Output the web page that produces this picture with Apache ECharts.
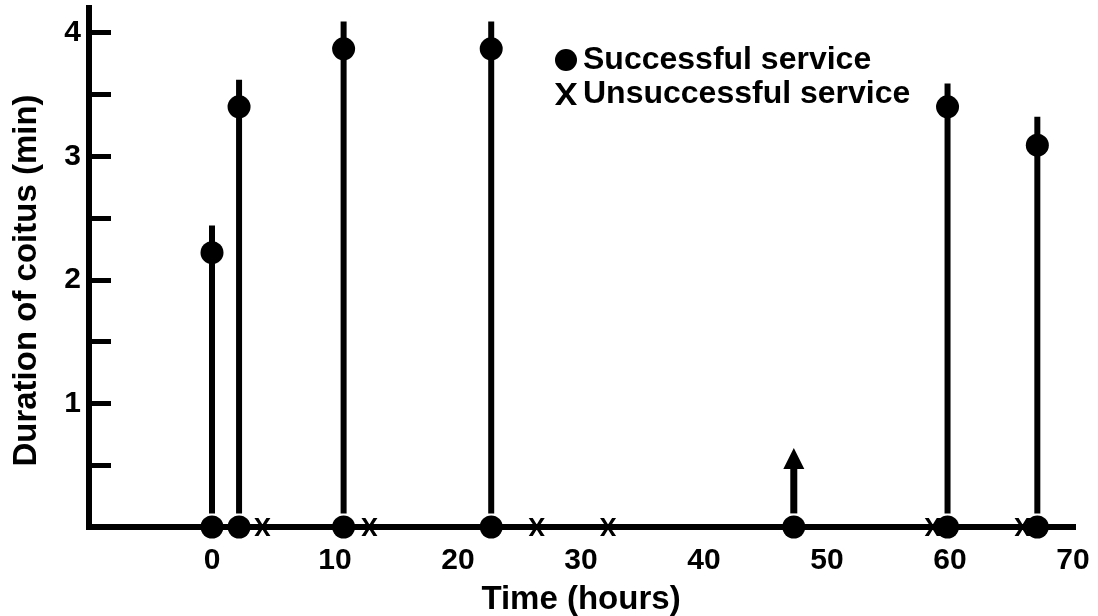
<!DOCTYPE html>
<html>
<head>
<meta charset="utf-8">
<script src="https://cdn.jsdelivr.net/npm/echarts@6/dist/echarts.min.js"></script>
<style>
  html, body { margin: 0; padding: 0; background: #ffffff; }
  #chart { width: 1098px; height: 616px; }
</style>
</head>
<body>
<div id="chart"></div>
<script>
// ---- Data ----
// Times (hours) of successful services that have a measured duration
const successTimes = [0.0, 2.2, 10.7, 22.7, 59.8, 67.1];
// Mean duration of coitus (min) at each successful service
const durations = [2.22, 3.40, 3.87, 3.87, 3.40, 3.09];
// Upper end of the bar above each mean (min)
const upperValues = [2.44, 3.62, 4.09, 4.09, 3.59, 3.32];
// Successful service marked with an arrow (no duration plotted)
const arrowTimes = [47.3];
const arrowTops = [0.64];
// Times (hours) of unsuccessful services
const unsuccessTimes = [4.1, 12.8, 26.4, 32.2, 58.6, 65.9];
// Tick labels
const xTickLabels = [0, 10, 20, 30, 40, 50, 60, 70];
const yTickLabels = [1, 2, 3, 4];
const yMinorTicks = [0.5, 1, 1.5, 2, 2.5, 3, 3.5, 4];
const STEM_BASE = 0.11;

// ---- Derived series data ----
const axisDotTimes = successTimes.slice(0, 4).concat(arrowTimes, successTimes.slice(4));
const axisDots = axisDotTimes.map(t => [t, 0]);
const topDots = successTimes.map((t, i) => [t, durations[i]]);
const stems = successTimes.map((t, i) => [t, upperValues[i]]);
const arrows = arrowTimes.map((t, i) => [t, arrowTops[i]]);
const xMarks = unsuccessTimes.map(t => [t, 0]);

const FONT = '"Liberation Sans", Arial, Helvetica, sans-serif';
const X_PATH = 'path://M0,0H4.5L9,6.5L13.5,0H18L11.3,9L18,18H13.5L9,11.5L4.5,18H0L6.7,9Z';

const chart = echarts.init(document.getElementById('chart'), null, { renderer: 'canvas' });

chart.setOption({
  backgroundColor: '#ffffff',
  animation: false,
  textStyle: { fontFamily: FONT, color: '#000' },
  grid: { left: 89, right: 25, top: 8, bottom: 89, containLabel: false, outerBoundsMode: 'none' },
  legend: {
    orient: 'vertical',
    left: 550,
    top: 39,
    itemWidth: 22,
    itemHeight: 22,
    itemGap: 2,
    data: ['Successful service', 'Unsuccessful service'],
    textStyle: { fontFamily: FONT, fontSize: 32, fontWeight: 'bold', color: '#000', padding: [0, 0, 0, 1], lineHeight: 32 },
    inactiveColor: '#000'
  },
  xAxis: {
    type: 'value',
    min: -10,
    max: 70,
    interval: 10,
    name: 'Time (hours)',
    nameLocation: 'middle',
    nameGap: 56,
    nameTextStyle: { fontFamily: FONT, fontSize: 33, fontWeight: 'bold', color: '#000' },
    splitLine: { show: false },
    axisLine: { show: true, onZero: false, lineStyle: { color: '#000', width: 6, cap: 'square' } },
    axisTick: { show: false },
    axisLabel: {
      customValues: xTickLabels,
      margin: 19,
      fontFamily: FONT, fontSize: 30, fontWeight: 'bold', color: '#000'
    }
  },
  yAxis: {
    type: 'value',
    min: 0,
    max: 4.2,
    interval: 0.5,
    name: 'Duration of coitus (min)',
    nameLocation: 'middle',
    nameGap: 46,
    nameTextStyle: { fontFamily: FONT, fontSize: 33, fontWeight: 'bold', color: '#000', padding: [0, 26, 0, 0] },
    splitLine: { show: false },
    axisLine: { show: true, onZero: false, lineStyle: { color: '#000', width: 6, cap: 'square' } },
    axisTick: { show: true, inside: true, length: 22, customValues: yMinorTicks, lineStyle: { color: '#000', width: 5 } },
    axisLabel: {
      customValues: yTickLabels,
      margin: 8,
      fontFamily: FONT, fontSize: 30, fontWeight: 'bold', color: '#000'
    }
  },
  series: [
    {
      name: 'stems',
      type: 'custom',
      data: stems,
      z: 2,
      clip: false,
      renderItem: function (params, api) {
        const x = api.value(0);
        const p0 = api.coord([x, STEM_BASE]);
        const p1 = api.coord([x, api.value(1)]);
        return {
          type: 'line',
          shape: { x1: p0[0], y1: p0[1], x2: p1[0], y2: p1[1] },
          style: { stroke: '#000', lineWidth: 6 }
        };
      }
    },
    {
      name: 'arrow',
      type: 'custom',
      data: arrows,
      z: 2,
      clip: false,
      renderItem: function (params, api) {
        const x = api.value(0);
        const p0 = api.coord([x, STEM_BASE]);
        const tip = api.coord([x, api.value(1)]);
        const headLen = 21, headHalf = 10.5;
        return {
          type: 'group',
          children: [
            { type: 'line', shape: { x1: p0[0], y1: p0[1], x2: tip[0], y2: tip[1] + headLen }, style: { stroke: '#000', lineWidth: 7 } },
            { type: 'polygon', shape: { points: [[tip[0], tip[1]], [tip[0] - headHalf, tip[1] + headLen], [tip[0] + headHalf, tip[1] + headLen]] }, style: { fill: '#000' } }
          ]
        };
      }
    },
    {
      name: 'Successful service',
      type: 'scatter',
      data: topDots,
      symbol: 'circle',
      symbolSize: 23,
      itemStyle: { color: '#000', opacity: 1 },
      z: 5,
      clip: false
    },
    {
      name: 'Successful service',
      type: 'scatter',
      data: axisDots,
      symbol: 'circle',
      symbolSize: 23,
      itemStyle: { color: '#000', opacity: 1 },
      z: 5,
      clip: false
    },
    {
      name: 'Unsuccessful service',
      type: 'scatter',
      data: xMarks,
      symbol: X_PATH,
      symbolSize: [16, 18],
      itemStyle: { color: '#000', opacity: 1 },
      z: 4,
      clip: false
    }
  ]
});
</script>
</body>
</html>
